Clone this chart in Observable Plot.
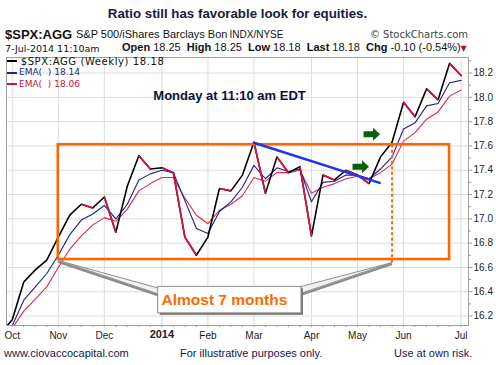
<!DOCTYPE html>
<html><head><meta charset="utf-8">
<script src="https://cdn.jsdelivr.net/npm/d3@7"></script>
<script src="https://cdn.jsdelivr.net/npm/@observablehq/plot@0.6"></script>
<style>
html,body{margin:0;padding:0;background:#fff;}
#wrap{position:relative;width:496px;height:365px;overflow:hidden;font-family:"Liberation Sans",Arial,sans-serif;}
#wrap svg{position:absolute;left:0;top:0;}
.t{position:absolute;white-space:pre;line-height:1;margin:0;}
.dv{font-family:"DejaVu Sans",Verdana,sans-serif;}
.sw{position:absolute;height:2px;width:10px;left:7px;}
</style></head><body>
<div id="wrap"></div>
<script>
// ---- data (weekly, Monday-dated) ----
const weekDates = ["2013-09-30","2013-10-07","2013-10-14","2013-10-21","2013-10-28","2013-11-04","2013-11-11","2013-11-18","2013-11-25",
"2013-12-02","2013-12-09","2013-12-16","2013-12-23","2013-12-30","2014-01-06","2014-01-13","2014-01-20","2014-01-27",
"2014-02-03","2014-02-10","2014-02-17","2014-02-24","2014-03-03","2014-03-10","2014-03-17","2014-03-24","2014-03-31",
"2014-04-07","2014-04-14","2014-04-21","2014-04-28","2014-05-05","2014-05-12","2014-05-19","2014-05-26",
"2014-06-02","2014-06-09","2014-06-16","2014-06-23","2014-06-30","2014-07-07"];
const ratioClose = [16.06,16.17,16.48,16.58,16.66,16.85,17.03,17.12,17.09,17.18,16.89,17.27,17.52,17.41,17.42,17.38,16.85,16.70,
16.85,17.25,17.23,17.36,17.63,17.21,17.51,17.38,17.43,16.86,17.36,17.32,17.40,17.36,17.29,17.51,17.63,17.96,17.84,18.07,17.98,18.28,18.18];
const emaFast = [16.02,16.12,16.33,16.44,16.55,16.70,16.87,16.99,17.04,17.11,17.00,17.12,17.32,17.37,17.40,17.38,17.15,16.92,
16.88,17.06,17.14,17.26,17.44,17.33,17.42,17.39,17.41,17.14,17.30,17.31,17.36,17.36,17.33,17.41,17.51,17.74,17.79,17.93,17.95,18.12,18.14];
const emaSlow = [16.00,16.10,16.24,16.34,16.44,16.60,16.75,16.86,16.95,17.01,16.98,17.08,17.23,17.29,17.34,17.34,17.17,17.03,
16.96,17.07,17.12,17.19,17.34,17.31,17.38,17.38,17.40,17.21,17.26,17.29,17.33,17.35,17.33,17.38,17.45,17.64,17.71,17.82,17.88,18.01,18.06];
const monthTickDates = ["2013-10-07","2013-11-04","2013-12-02","2014-01-06","2014-02-03","2014-03-03","2014-04-07","2014-05-05","2014-06-02","2014-07-07"];
const monthTickLabels = ["Oct","Nov","Dec","2014","Feb","Mar","Apr","May","Jun","Jul"];
const yTickValues = [16.2,16.4,16.6,16.8,17.0,17.2,17.4,17.6,17.8,18.0,18.2];
const yMinorValues = [16.3,16.5,16.7,16.9,17.1,17.3,17.5,17.7,17.9,18.1,18.3];

// annotations (x in weeks after 2013-10-07, y in ratio units)
const boxWeeks = [4, 38];            // orange consolidation box
const boxLevels = [16.665, 17.61];
const breakoutWeek = [33];
const breakoutLevels = [17.61, 16.64];
const trendWeeks = [21, 31.92];
const trendLevels = [17.626, 17.296];
const arrowWeeks = [30.26, 31.22];
const arrowLevels = [17.428, 17.696];
const calloutWeeks = [12.68, 25.13];
const calloutLevels = [16.222, 16.44];
const calloutText = "Almost 7 months";
const wedgeLeft = {tip:[4, 16.657], base:[12.7, 16.43, 16.382]};
const wedgeRight = {tip:[33, 16.64], base:[25.1, 16.443, 16.388]};

const parse = s => new Date(s + "T00:00:00Z");
const base = Date.UTC(2013, 9, 7);
const wk = w => new Date(base + w * 7 * 864e5);

const rows = weekDates.map((d, i) => ({date: parse(d), close: ratioClose[i], fast: emaFast[i], slow: emaSlow[i]}));
const downs = d3.pairs(rows).filter(([a, b]) => b.close < a.close);
const monthTicks = monthTickDates.map(parse);
const labelOf = new Map(monthTicks.map((d, i) => [+d, monthTickLabels[i]]));
const janTick = monthTicks.filter((d, i) => monthTickLabels[i] === "2014");
const otherTicks = monthTicks.filter((d, i) => monthTickLabels[i] !== "2014");
const weekTicks = rows.slice(1).map(r => r.date);

const arrowSymbol = {draw(ctx) {
  ctx.moveTo(-8, -3); ctx.lineTo(1.5, -3); ctx.lineTo(1.5, -6.5); ctx.lineTo(8.5, 0);
  ctx.lineTo(1.5, 6.5); ctx.lineTo(1.5, 3); ctx.lineTo(-8, 3); ctx.closePath();
}};

const wedge = (w, k) => [
  {x: wk(w.tip[0]), y: w.tip[1], k}, {x: wk(w.base[0]), y: w.base[1], k},
  {x: wk(w.base[0]), y: w.base[2], k}, {x: wk(w.tip[0]), y: w.tip[1], k}];
const wedges = [...wedge(wedgeLeft, "L"), ...wedge(wedgeRight, "R")];
const wedgeLower = [
  {x1: wk(wedgeLeft.tip[0]), y1: wedgeLeft.tip[1], x2: wk(wedgeLeft.base[0]), y2: wedgeLeft.base[2]},
  {x1: wk(wedgeRight.tip[0]), y1: wedgeRight.tip[1], x2: wk(wedgeRight.base[0]), y2: wedgeRight.base[2]}];

const chart = Plot.plot({
  width: 496, height: 365,
  marginTop: 57, marginBottom: 40, marginLeft: 6, marginRight: 28,
  x: {type: "utc", domain: [new Date(Date.UTC(2013, 9, 3, 12)), new Date(Date.UTC(2014, 6, 11, 12))], label: null},
  y: {domain: [16.122, 18.328], label: null},
  style: {fontFamily: "'Liberation Sans', Arial, sans-serif", fontSize: "10px", background: "transparent", color: "#222"},
  marks: [
    Plot.gridY(yTickValues, {stroke: "#dcdcdc", strokeOpacity: 1}),
    Plot.gridX(monthTicks, {stroke: "#dcdcdc", strokeOpacity: 1}),
    Plot.line(rows, {x: "date", y: "slow", stroke: "#e0284f", strokeWidth: 1.1, clip: true}),
    Plot.line(rows, {x: "date", y: "fast", stroke: "#1e1e96", strokeWidth: 1.1, clip: true}),
    Plot.line(rows, {x: "date", y: "close", stroke: "#000", strokeWidth: 1.6, clip: true}),
    Plot.link(downs, {x1: d => d[0].date, y1: d => d[0].close, x2: d => d[1].date, y2: d => d[1].close,
      stroke: "#d8143f", strokeWidth: 1.7, clip: true}),
    Plot.rect([0], {x1: wk(boxWeeks[0]), x2: wk(boxWeeks[1]), y1: boxLevels[0], y2: boxLevels[1],
      fill: "none", stroke: "#ff6600", strokeWidth: 2.6}),
    Plot.ruleX(breakoutWeek.map(wk), {y1: breakoutLevels[0], y2: breakoutLevels[1], stroke: "#ff6600", strokeWidth: 2, strokeDasharray: "3,2.5"}),
    Plot.line(trendWeeks.map((w, i) => ({x: wk(w), y: trendLevels[i]})), {x: "x", y: "y", stroke: "#1f35f0", strokeWidth: 2.6}),
    Plot.dot(arrowWeeks.map((w, i) => ({x: wk(w), y: arrowLevels[i]})), {x: "x", y: "y", symbol: arrowSymbol, fill: "#0b5d0b", stroke: "none"}),
    Plot.link(wedgeLower, {x1: "x1", y1: "y1", x2: "x2", y2: "y2", stroke: "#8a8a8a", strokeWidth: 2.2, dy: 1.5}),
    Plot.line(wedges, {x: "x", y: "y", z: "k", fill: "#f2f2f2", stroke: "#8c8c8c", strokeWidth: 1}),
    Plot.rect([0], {x1: wk(calloutWeeks[0]), x2: wk(calloutWeeks[1]), y1: calloutLevels[0], y2: calloutLevels[1],
      fill: "#777", dx: 2, dy: 2}),
    Plot.rect([0], {x1: wk(calloutWeeks[0]), x2: wk(calloutWeeks[1]), y1: calloutLevels[0], y2: calloutLevels[1],
      fill: "#fff", stroke: "#8c8c8c", strokeWidth: 1}),
    Plot.text([calloutText], {x: wk(calloutWeeks[0] + 0.29), y: (calloutLevels[0] + calloutLevels[1]) / 2, text: d => d,
      textAnchor: "start", fontSize: 15.5, fontWeight: "bold", fill: "#ff6a00"}),
    Plot.axisY(yMinorValues, {anchor: "right", tickSize: 2, tickFormat: () => "", stroke: "#999"}),
    Plot.axisY(yTickValues, {anchor: "right", tickSize: 3, tickPadding: 2, tickFormat: d => d.toFixed(1), stroke: "#999", fontSize: 10}),
    Plot.axisX(weekTicks, {tickSize: 2, tickFormat: () => "", stroke: "#999"}),
    Plot.axisX(otherTicks, {tickSize: 0, tickPadding: 6, tickFormat: d => labelOf.get(+d), fontSize: 10}),
    Plot.axisX(janTick, {tickSize: 0, tickPadding: 5, tickFormat: d => labelOf.get(+d), fontSize: 11, fontWeight: "bold"}),
    Plot.frame({stroke: "#a0a0a0"})
  ]
});

const wrap = document.getElementById("wrap");
wrap.appendChild(chart);

const overlay = `
<div class="t" style="left:0;width:475px;text-align:center;top:6.5px;font-size:13.3px;font-weight:bold;color:#1a1a40">Ratio still has favorable look for equities.</div>
<div class="t" style="left:5px;top:28.3px;font-size:13px;font-weight:bold;color:#111">$SPX:AGG</div>
<div class="t" style="left:76px;top:29.4px;font-size:11px;color:#111">S&amp;P 500/iShares Barclays Bon</div>
<div class="t" style="left:229.5px;top:30.2px;font-size:10px;color:#111">INDX/NYSE</div>
<div class="t dv" style="right:28px;top:30.2px;font-size:10px;color:#444">© StockCharts.com</div>
<div class="t dv" style="left:5px;top:43.6px;font-size:9.5px;color:#111">7-Jul-2014 11:10am</div>
<div class="t" style="left:122px;top:42.4px;font-size:11px;color:#111"><b>Open</b> 18.25  <b>High</b> 18.25  <b>Low</b> 18.18  <b>Last</b> 18.18  <b>Chg</b> -0.10 (-0.54%)</div>
<div class="t dv" style="left:460.5px;top:45px;font-size:8px;color:#a3123d">▼</div>
<div class="sw" style="top:60px;background:#000"></div>
<div class="t dv" style="left:20.7px;top:56.5px;font-size:10px;letter-spacing:0.6px;color:#111">$SPX:AGG (Weekly) 18.18</div>
<div class="sw" style="top:71.5px;background:#1e1e96"></div>
<div class="t dv" style="left:19px;top:68.1px;font-size:9px;color:#1e1e96">EMA(  ) 18.14</div>
<div class="sw" style="top:83px;background:#d3123f"></div>
<div class="t dv" style="left:19px;top:79.7px;font-size:9px;color:#d3123f">EMA(  ) 18.06</div>
<div class="t" style="left:153.3px;top:89.3px;font-size:13px;font-weight:bold;color:#10103c">Monday at 11:10 am EDT</div>
<div class="t" style="left:4px;top:347.6px;font-size:11px;color:#16164e">www.ciovaccocapital.com</div>
<div class="t" style="left:180px;top:347.6px;font-size:11px;color:#16164e">For illustrative purposes only.</div>
<div class="t" style="left:394px;top:347.6px;font-size:11px;color:#16164e">Use at own risk.</div>`;
wrap.insertAdjacentHTML("beforeend", overlay);
</script>
</body></html>
